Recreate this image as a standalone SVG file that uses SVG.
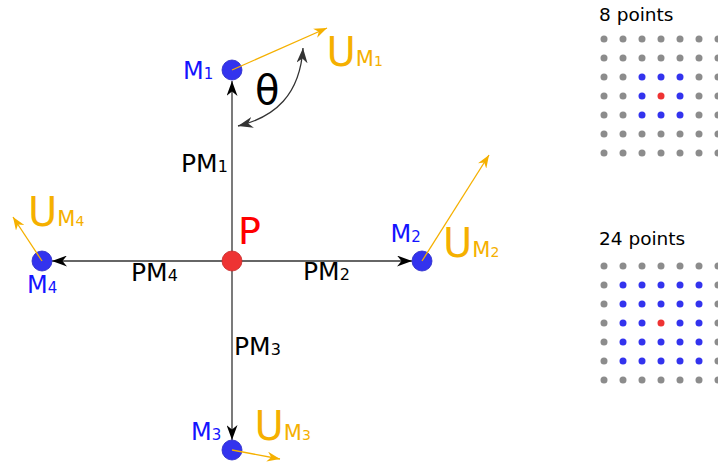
<svg xmlns="http://www.w3.org/2000/svg" width="718" height="465" viewBox="0 0 718 465">
<style>
  .t { font-family: "DejaVu Sans", Verdana, sans-serif; }
  .blue { fill: #1414ff; }
  .org { fill: #f5b000; }
  .blk { fill: #000; }
  .link { stroke: #333; stroke-width: 1.3; fill: none; }
  .vec { stroke: #f5b000; stroke-width: 1.3; fill: none; }
  .mnode { fill: #3333ee; stroke: #2a2ac8; stroke-width: 0.8; }
  .pnode { fill: #ee3333; stroke: #c82a2a; stroke-width: 0.8; }
  .g { fill: #8c8c8c; }
  .b { fill: #3333ee; }
  .r { fill: #ee3333; }
</style>
<defs>
  <marker id="ah" markerUnits="userSpaceOnUse" markerWidth="15" markerHeight="11" viewBox="0 0 15 11" refX="15" refY="5.5" orient="auto-start-reverse">
    <path d="M0,0 L15,5.5 L0,11 L4.5,5.5 Z" fill="#000"/>
  </marker>
  <marker id="ahg" markerUnits="userSpaceOnUse" markerWidth="15" markerHeight="11" viewBox="0 0 15 11" refX="15" refY="5.5" orient="auto-start-reverse">
    <path d="M0,0 L15,5.5 L0,11 L4.5,5.5 Z" fill="#333"/>
  </marker>
  <marker id="aho" markerUnits="userSpaceOnUse" markerWidth="13" markerHeight="10" viewBox="0 0 13 10" refX="13" refY="5" orient="auto">
    <path d="M0,0 L13,5 L0,10 L4,5 Z" fill="#f5b000"/>
  </marker>
</defs>

<g id="connectors">
  <line class="link" x1="232" y1="261" x2="232" y2="81" marker-end="url(#ah)"/>
  <line class="link" x1="232" y1="261" x2="412" y2="261" marker-end="url(#ah)"/>
  <line class="link" x1="232" y1="261" x2="232" y2="440" marker-end="url(#ah)"/>
  <line class="link" x1="232" y1="261" x2="52" y2="261" marker-end="url(#ah)"/>
  <path class="link" d="M238,126 C275,117 300,95 303,48" marker-start="url(#ahg)" marker-end="url(#ahg)"/>
</g>

<g id="node-P">
  <circle class="pnode" cx="232" cy="261" r="10"/>
  <text class="t" x="238" y="244" font-size="38" fill="#ff0000">P</text>
</g>

<g id="node-M1">
  <circle class="mnode" cx="232" cy="70" r="10"/>
  <line class="vec" x1="232" y1="70" x2="327" y2="28" marker-end="url(#aho)"/>
  <text class="t blue" x="183" y="79" font-size="24">M<tspan font-size="15">1</tspan></text>
  <text class="t org" x="326.5" y="66"><tspan font-size="40">U</tspan><tspan font-size="21">M</tspan><tspan font-size="14">1</tspan></text>
</g>

<g id="node-M2">
  <circle class="mnode" cx="422" cy="261" r="10"/>
  <line class="vec" x1="422" y1="261" x2="489" y2="155" marker-end="url(#aho)"/>
  <text class="t blue" x="390.5" y="242" font-size="24">M<tspan font-size="15">2</tspan></text>
  <text class="t org" x="443" y="257"><tspan font-size="40">U</tspan><tspan font-size="21">M</tspan><tspan font-size="14">2</tspan></text>
</g>

<g id="node-M3">
  <circle class="mnode" cx="232" cy="450" r="10"/>
  <line class="vec" x1="232" y1="450" x2="280" y2="459" marker-end="url(#aho)"/>
  <text class="t blue" x="191" y="440" font-size="24">M<tspan font-size="15">3</tspan></text>
  <text class="t org" x="254.5" y="440"><tspan font-size="40">U</tspan><tspan font-size="21">M</tspan><tspan font-size="14">3</tspan></text>
</g>

<g id="node-M4">
  <circle class="mnode" cx="42" cy="261" r="10"/>
  <line class="vec" x1="42" y1="261" x2="13" y2="217" marker-end="url(#aho)"/>
  <text class="t blue" x="27" y="293" font-size="24">M<tspan font-size="15">4</tspan></text>
  <text class="t org" x="28" y="226"><tspan font-size="40">U</tspan><tspan font-size="21">M</tspan><tspan font-size="14">4</tspan></text>
</g>

<g id="labels">
  <text class="t blk" x="181" y="172" font-size="25">PM<tspan font-size="16">1</tspan></text>
  <text class="t blk" x="303" y="280" font-size="25">PM<tspan font-size="16">2</tspan></text>
  <text class="t blk" x="234" y="355" font-size="25">PM<tspan font-size="16">3</tspan></text>
  <text class="t blk" x="131" y="281" font-size="25">PM<tspan font-size="16">4</tspan></text>
  <text class="t blk" x="255" y="104" font-size="40">θ</text>
</g>

<g id="grid-8">
  <text class="t blk" x="599" y="21" font-size="18.5">8 points</text>
  <g class="g">
    <circle cx="604" cy="39" r="3.5"/><circle cx="623" cy="39" r="3.5"/><circle cx="642" cy="39" r="3.5"/><circle cx="661" cy="39" r="3.5"/><circle cx="680" cy="39" r="3.5"/><circle cx="699" cy="39" r="3.5"/><circle cx="718" cy="39" r="3.5"/>
    <circle cx="604" cy="58" r="3.5"/><circle cx="623" cy="58" r="3.5"/><circle cx="642" cy="58" r="3.5"/><circle cx="661" cy="58" r="3.5"/><circle cx="680" cy="58" r="3.5"/><circle cx="699" cy="58" r="3.5"/><circle cx="718" cy="58" r="3.5"/>
    <circle cx="604" cy="77" r="3.5"/><circle cx="623" cy="77" r="3.5"/><circle cx="699" cy="77" r="3.5"/><circle cx="718" cy="77" r="3.5"/>
    <circle cx="604" cy="96" r="3.5"/><circle cx="623" cy="96" r="3.5"/><circle cx="699" cy="96" r="3.5"/><circle cx="718" cy="96" r="3.5"/>
    <circle cx="604" cy="115" r="3.5"/><circle cx="623" cy="115" r="3.5"/><circle cx="699" cy="115" r="3.5"/><circle cx="718" cy="115" r="3.5"/>
    <circle cx="604" cy="134" r="3.5"/><circle cx="623" cy="134" r="3.5"/><circle cx="642" cy="134" r="3.5"/><circle cx="661" cy="134" r="3.5"/><circle cx="680" cy="134" r="3.5"/><circle cx="699" cy="134" r="3.5"/><circle cx="718" cy="134" r="3.5"/>
    <circle cx="604" cy="153" r="3.5"/><circle cx="623" cy="153" r="3.5"/><circle cx="642" cy="153" r="3.5"/><circle cx="661" cy="153" r="3.5"/><circle cx="680" cy="153" r="3.5"/><circle cx="699" cy="153" r="3.5"/><circle cx="718" cy="153" r="3.5"/>
  </g>
  <g class="b">
    <circle cx="642" cy="77" r="3.5"/><circle cx="661" cy="77" r="3.5"/><circle cx="680" cy="77" r="3.5"/>
    <circle cx="642" cy="96" r="3.5"/><circle cx="680" cy="96" r="3.5"/>
    <circle cx="642" cy="115" r="3.5"/><circle cx="661" cy="115" r="3.5"/><circle cx="680" cy="115" r="3.5"/>
  </g>
  <circle class="r" cx="661" cy="96" r="3.5"/>
</g>

<g id="grid-24">
  <text class="t blk" x="599" y="245" font-size="18.5">24 points</text>
  <g class="g">
    <circle cx="604" cy="266" r="3.5"/><circle cx="623" cy="266" r="3.5"/><circle cx="642" cy="266" r="3.5"/><circle cx="661" cy="266" r="3.5"/><circle cx="680" cy="266" r="3.5"/><circle cx="699" cy="266" r="3.5"/><circle cx="718" cy="266" r="3.5"/>
    <circle cx="604" cy="285" r="3.5"/><circle cx="718" cy="285" r="3.5"/>
    <circle cx="604" cy="304" r="3.5"/><circle cx="718" cy="304" r="3.5"/>
    <circle cx="604" cy="323" r="3.5"/><circle cx="718" cy="323" r="3.5"/>
    <circle cx="604" cy="342" r="3.5"/><circle cx="718" cy="342" r="3.5"/>
    <circle cx="604" cy="361" r="3.5"/><circle cx="718" cy="361" r="3.5"/>
    <circle cx="604" cy="380" r="3.5"/><circle cx="623" cy="380" r="3.5"/><circle cx="642" cy="380" r="3.5"/><circle cx="661" cy="380" r="3.5"/><circle cx="680" cy="380" r="3.5"/><circle cx="699" cy="380" r="3.5"/><circle cx="718" cy="380" r="3.5"/>
  </g>
  <g class="b">
    <circle cx="623" cy="285" r="3.5"/><circle cx="642" cy="285" r="3.5"/><circle cx="661" cy="285" r="3.5"/><circle cx="680" cy="285" r="3.5"/><circle cx="699" cy="285" r="3.5"/>
    <circle cx="623" cy="304" r="3.5"/><circle cx="642" cy="304" r="3.5"/><circle cx="661" cy="304" r="3.5"/><circle cx="680" cy="304" r="3.5"/><circle cx="699" cy="304" r="3.5"/>
    <circle cx="623" cy="323" r="3.5"/><circle cx="642" cy="323" r="3.5"/><circle cx="680" cy="323" r="3.5"/><circle cx="699" cy="323" r="3.5"/>
    <circle cx="623" cy="342" r="3.5"/><circle cx="642" cy="342" r="3.5"/><circle cx="661" cy="342" r="3.5"/><circle cx="680" cy="342" r="3.5"/><circle cx="699" cy="342" r="3.5"/>
    <circle cx="623" cy="361" r="3.5"/><circle cx="642" cy="361" r="3.5"/><circle cx="661" cy="361" r="3.5"/><circle cx="680" cy="361" r="3.5"/><circle cx="699" cy="361" r="3.5"/>
  </g>
  <circle class="r" cx="661" cy="323" r="3.5"/>
</g>
</svg>
